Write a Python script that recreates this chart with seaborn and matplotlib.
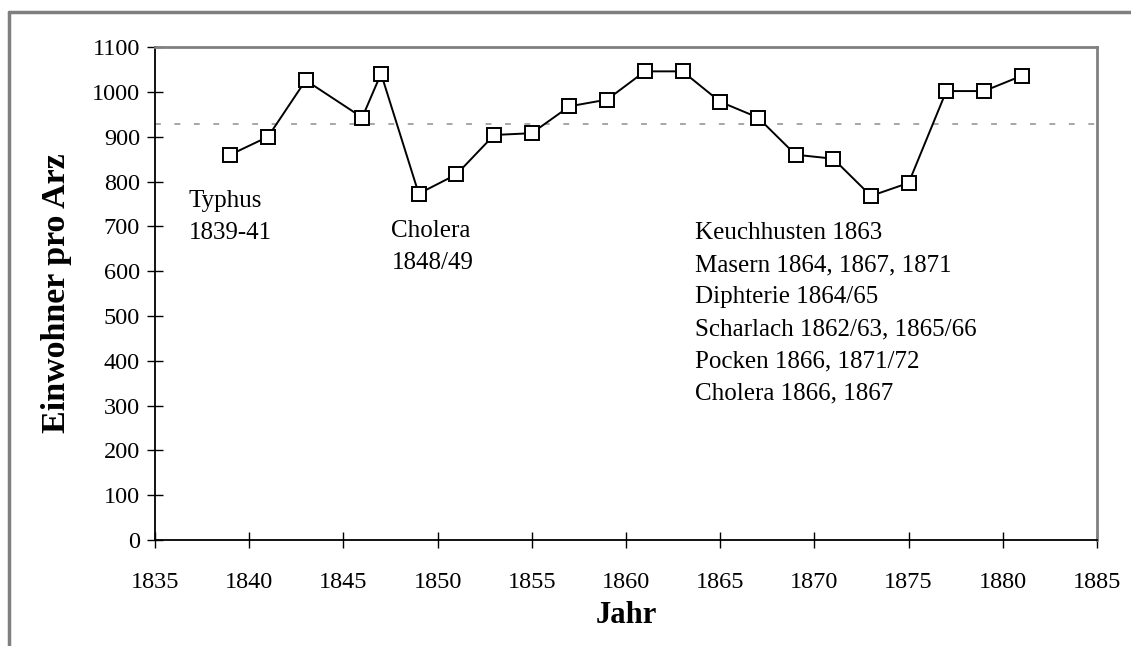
import matplotlib
matplotlib.use("Agg")
import matplotlib.pyplot as plt
from matplotlib.lines import Line2D
import seaborn as sns
import pandas as pd

years = [1839, 1841, 1843, 1846, 1847, 1849, 1851, 1853, 1855, 1857, 1859,
         1861, 1863, 1865, 1867, 1869, 1871, 1873, 1875, 1877, 1879, 1881]
einwohner = [860, 900, 1026, 943, 1041, 773, 816, 904, 908, 968, 983,
             1046, 1046, 978, 943, 860, 851, 768, 797, 1002, 1002, 1036]
mittelwert = 928

notes = [
    (1836.8, 782, "Typhus\n1839-41"),
    (1847.55, 714, "Cholera\n1848/49"),
    (1863.65, 710, "Keuchhusten 1863\nMasern 1864, 1867, 1871\nDiphterie 1864/65\n"
                   "Scharlach 1862/63, 1865/66\nPocken 1866, 1871/72\nCholera 1866, 1867"),
]

sns.set_style("white")
plt.rcParams['font.family'] = ['Liberation Serif', 'DejaVu Serif']
plt.rcParams['text.color'] = 'black'
plt.rcParams['axes.labelcolor'] = 'black'

df = pd.DataFrame({"Jahr": years, "Einwohner": einwohner})

fig = plt.figure(figsize=(11.31, 6.46), dpi=100)
ax = fig.add_axes([0.137, 0.164, 0.833, 0.763])

ax.axhline(mittelwert, color="#a6a6a6", lw=1.4, ls=(0, (3, 7)), zorder=1)
sns.lineplot(data=df, x="Jahr", y="Einwohner", ax=ax, color="black", lw=1.4,
             marker="s", markersize=9.5, markerfacecolor="white",
             markeredgecolor="black", markeredgewidth=1.4, zorder=3)

for x, y, txt in notes:
    ax.text(x, y, txt, fontsize=18, va="top", ha="left", linespacing=1.6)

ax.set_xlim(1835, 1885)
ax.set_ylim(0, 1100)
ax.set_xticks(range(1835, 1886, 5))
ax.set_yticks(range(0, 1101, 100))
ax.tick_params(bottom=True, left=True, direction="inout", length=11.5, width=1,
               colors="black", labelsize=17.5, pad=5)
ax.tick_params(axis="x", pad=17)
ax.set_xlabel("Jahr", fontsize=22, fontweight="bold", labelpad=6)
ax.set_ylabel("Einwohner pro Arz", fontsize=24.5, fontweight="bold", labelpad=14)

for s in ["left", "bottom"]:
    ax.spines[s].set_color("black")
    ax.spines[s].set_linewidth(1.3)
for s in ["top", "right"]:
    ax.spines[s].set_color("#808080")
    ax.spines[s].set_linewidth(2)

# outer chart frame
fig.add_artist(Line2D([9 / 1131, 9 / 1131], [1 - 12 / 646, 0], color="#7f7f7f", lw=2.5))
fig.add_artist(Line2D([9 / 1131, 1], [1 - 12 / 646, 1 - 12 / 646], color="#7f7f7f", lw=2.5))

fig.savefig("out.png", dpi=100)
